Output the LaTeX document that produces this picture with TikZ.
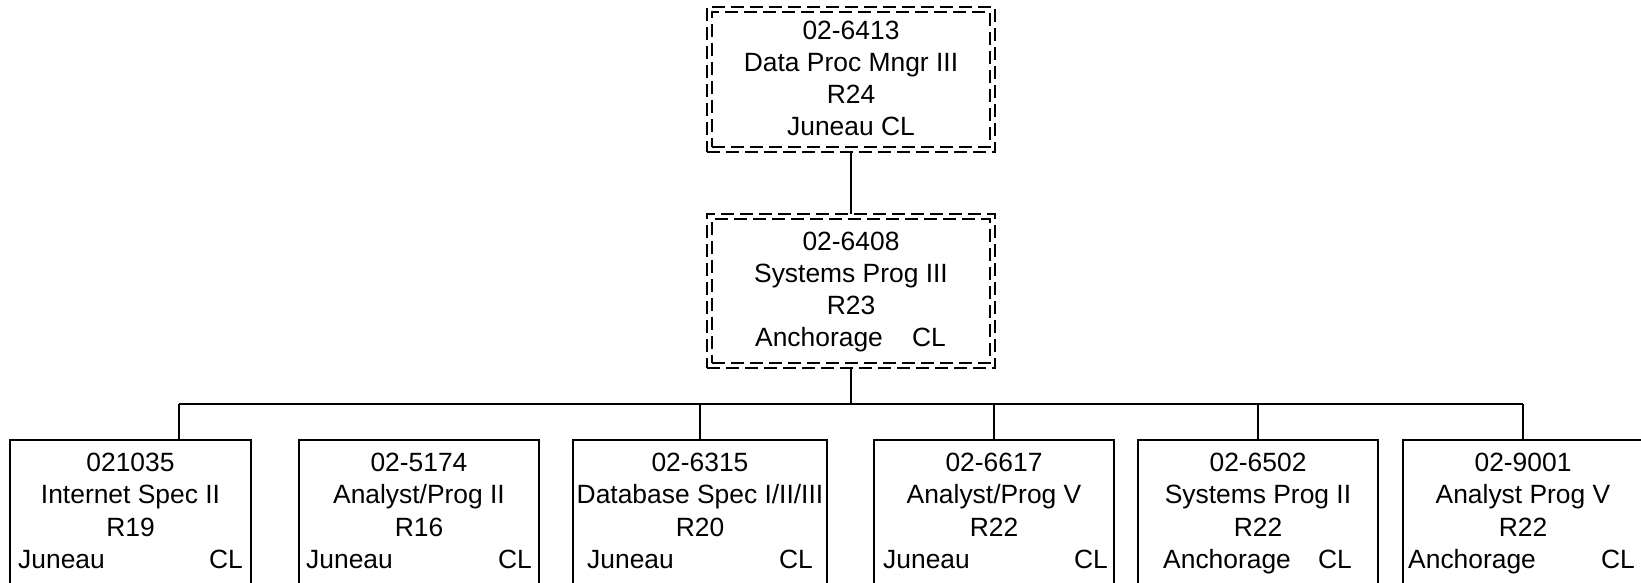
\documentclass[tikz,border=0pt]{standalone}
\usepackage{fontspec}
\setmainfont{Liberation Sans}
\begin{document}
\begin{tikzpicture}[x=1pt,y=-1pt,
  ln/.style={line width=2pt},
  dbox/.style={draw, ln, dash pattern=on 13pt off 6pt, rectangle, inner sep=0pt, outer sep=0pt, anchor=north west},
  sbox/.style={draw, ln, rectangle, inner sep=0pt, outer sep=0pt, anchor=north west, minimum height=200pt},
  lbl/.style={font=\fontsize{26.4}{32}\selectfont, inner sep=0pt, anchor=base},
  lw/.style={lbl, anchor=base west},
  le/.style={lbl, anchor=base east}]
\useasboundingbox (0,0) rectangle (1641,582);
\clip (0,0) rectangle (1641,582);
% top boxes
\node[dbox, minimum width=288pt, minimum height=145pt] (topO) at (707,7) {};
\node[dbox, minimum width=278pt, minimum height=135pt] (topI) at (712,12) {};
\node[dbox, minimum width=288pt, minimum height=154pt] (midO) at (707,214) {};
\node[dbox, minimum width=278pt, minimum height=144pt] (midI) at (712,219) {};
\node[lbl] (t1) at (851,39) {02-6413};
\node[lbl] (t2) at (851,71) {Data Proc Mngr III};
\node[lbl] (t3) at (851,103) {R24};
\node[lbl] (t4) at (851,135) {Juneau CL};
\node[lbl] (m1) at (851,250) {02-6408};
\node[lbl] (m2) at (851,282) {Systems Prog III};
\node[lbl] (m3) at (851,314) {R23};
\node[lw] (m4) at (755,346) {Anchorage};
\node[le] (m5) at (946,346) {CL};
% bottom boxes
\node[sbox, minimum width=241pt] (b1) at (10,440) {};
\node[sbox, minimum width=240pt] (b2) at (299,440) {};
\node[sbox, minimum width=254pt] (b3) at (573,440) {};
\node[sbox, minimum width=240pt] (b4) at (874,440) {};
\node[sbox, minimum width=240pt] (b5) at (1138,440) {};
\node[sbox, minimum width=240pt] (b6) at (1403,440) {};
% box 1
\node[lbl] (a1) at (130.5,471) {021035};
\node[lbl] (a2) at (130.5,503) {Internet Spec II};
\node[lbl] (a3) at (130.5,536) {R19};
\node[lw] (a4) at (18,568) {Juneau};
\node[le] (a5) at (243,568) {CL};
% box 2
\node[lbl] (c1) at (419,471) {02-5174};
\node[lbl] (c2) at (419,503) {Analyst/Prog II};
\node[lbl] (c3) at (419,536) {R16};
\node[lw] (c4) at (306,568) {Juneau};
\node[le] (c5) at (532,568) {CL};
% box 3
\node[lbl] (d1) at (700,471) {02-6315};
\node[lbl] (d2) at (700,503) {Database Spec I/II/III};
\node[lbl] (d3) at (700,536) {R20};
\node[lw] (d4) at (587,568) {Juneau};
\node[le] (d5) at (813,568) {CL};
% box 4
\node[lbl] (e1) at (994,471) {02-6617};
\node[lbl] (e2) at (994,503) {Analyst/Prog V};
\node[lbl] (e3) at (994,536) {R22};
\node[lw] (e4) at (883,568) {Juneau};
\node[le] (e5) at (1108,568) {CL};
% box 5
\node[lbl] (f1) at (1258,471) {02-6502};
\node[lbl] (f2) at (1258,503) {Systems Prog II};
\node[lbl] (f3) at (1258,536) {R22};
\node[lw] (f4) at (1163,568) {Anchorage};
\node[le] (f5) at (1352,568) {CL};
% box 6
\node[lbl] (g1) at (1523,471) {02-9001};
\node[lbl] (g2) at (1523,503) {Analyst Prog V};
\node[lbl] (g3) at (1523,536) {R22};
\node[lw] (g4) at (1408,568) {Anchorage};
\node[le] (g5) at (1635,568) {CL};
% connectors
\coordinate (bus) at (851,404);
\coordinate (busL) at (179,404);
\coordinate (busR) at (1523,404);
\draw[ln] (topO.south) -- (midO.north);
\draw[ln] (midO.south) -- (bus);
\draw[ln] (busL) -- (busR);
\draw[ln] (busL) -- (busL |- b1.north);
\draw[ln] (b3.north |- bus) -- (b3.north);
\draw[ln] (b4.north |- bus) -- (b4.north);
\draw[ln] (b5.north |- bus) -- (b5.north);
\draw[ln] (b6.north |- bus) -- (b6.north);
\end{tikzpicture}
\end{document}
